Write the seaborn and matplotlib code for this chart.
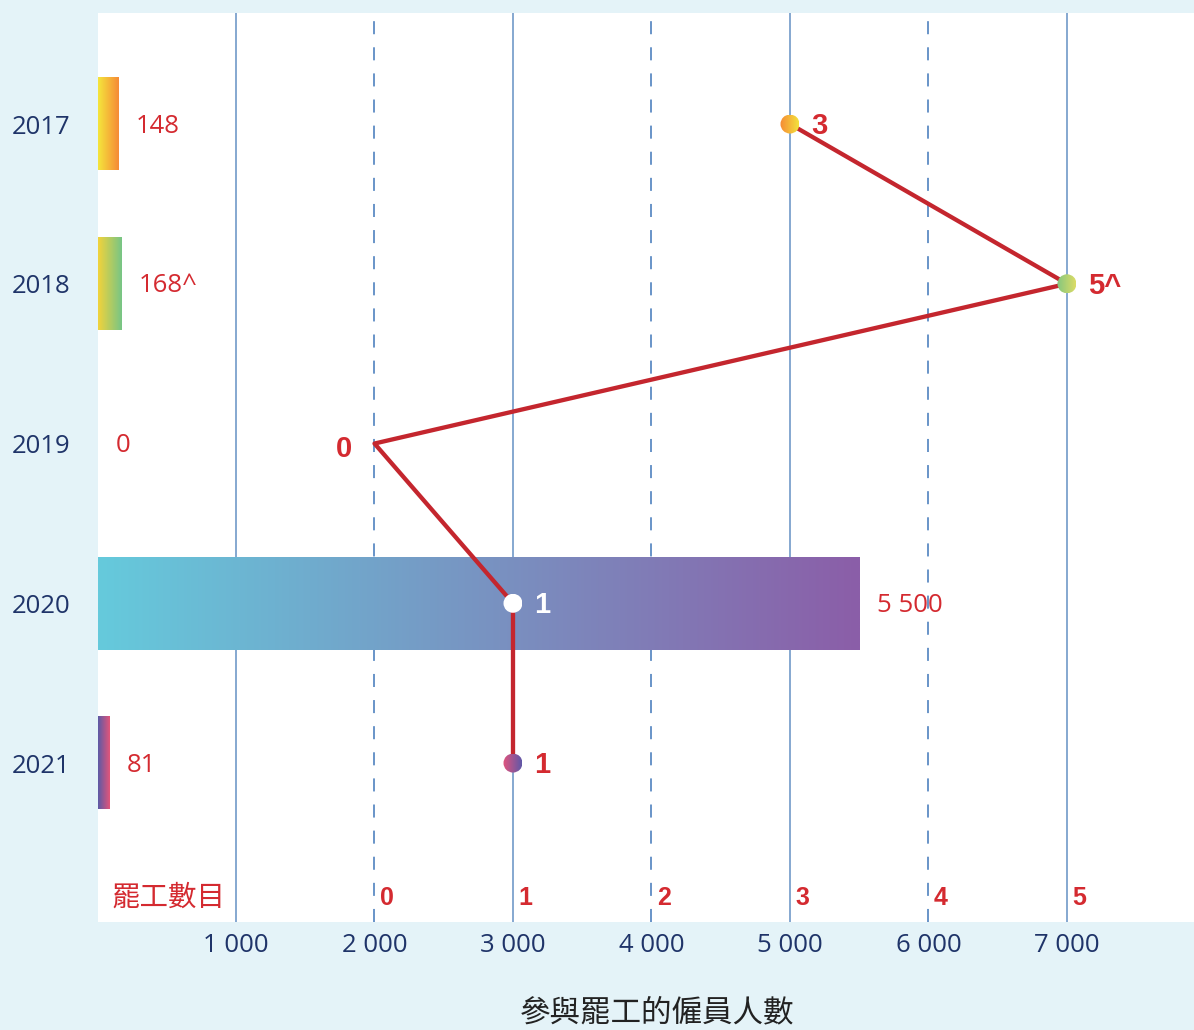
import numpy as np
import pandas as pd
import matplotlib
matplotlib.use("Agg")
import matplotlib.pyplot as plt
import seaborn as sns
from matplotlib.colors import LinearSegmentedColormap
from matplotlib.patches import Ellipse
from matplotlib.ticker import FixedLocator, FuncFormatter

# ---- data -------------------------------------------------------------
years = ["2017", "2018", "2019", "2020", "2021"]
workers = [148, 168, 0, 5500, 81]
worker_labels = ["148", "168^", "0", "5 500", "81"]
strikes = [3, 5, 0, 1, 1]
strike_labels = ["3", "5^", "0", "1", "1"]
worker_ticks = [1000, 2000, 3000, 4000, 5000, 6000, 7000]
strike_ticks = [0, 1, 2, 3, 4, 5]

# left -> right gradient colours for each bar and each strike marker
bar_colors = [("#f4e63c", "#f68a36"), ("#f2d33b", "#76c586"), None,
              ("#65cadc", "#8b5ea8"), ("#5b5aa6", "#e3557a")]
dot_colors = [("#f68a35", "#f3e23c"), ("#84c67f", "#dcdc66"), None,
              ("#ffffff", "#ffffff"), ("#e2547d", "#5f58a8")]
strike_text_colors = ["#d42a30", "#d42a30", "#d42a30", "#ffffff", "#d42a30"]

# strike count axis shares the worker axis: 0 strikes at 2 000, one step per 1 000
STRIKE_ORIGIN, STRIKE_STEP = 2000, 1000


def strike_to_x(s):
    return STRIKE_ORIGIN + STRIKE_STEP * s


BG = "#e4f3f8"
RED = "#d42a30"
LINE_RED = "#c4262e"
NAVY = "#1f3469"
GRID_SOLID = "#7199c8"
GRID_DASH = "#4f82bf"

sns.set_theme(style="white")
plt.rcParams["font.family"] = ["Open Sans", "Noto Sans CJK TC", "DejaVu Sans"]
plt.rcParams["lines.scale_dashes"] = False

fig = plt.figure(figsize=(11.94, 10.30), dpi=100, facecolor=BG)
W, H = 1194, 1030
ax = fig.add_axes([97.5 / W, (H - 922) / H, 1 - 97.5 / W, 909 / H])
ax.set_facecolor("white")

df = pd.DataFrame({"year": years, "workers": workers})
sns.barplot(data=df, x="workers", y="year", orient="h", width=0.58,
            color="white", errorbar=None, ax=ax, zorder=2)

XLIM = (0, 7917)
YLIM = (4.995, -0.695)

# vertical grid: solid on odd thousands, dashed on even thousands
for i, t in enumerate(worker_ticks):
    if i % 2 == 0:
        ax.axvline(t, color=GRID_SOLID, lw=1.2, zorder=1)
    else:
        ax.axvline(t, color=GRID_DASH, lw=1.2, ls=(0, (9.4, 9.4)), zorder=1)

# gradient-filled bars
grad = np.linspace(0, 1, 256).reshape(1, -1)
for patch, cols in zip(ax.patches, bar_colors):
    x0, y0 = patch.get_xy()
    w, h = patch.get_width(), patch.get_height()
    patch.set_visible(False)
    if cols is None or w <= 0:
        continue
    cmap = LinearSegmentedColormap.from_list("bar", list(cols))
    ax.imshow(grad, cmap=cmap, extent=(x0, x0 + w, y0 + h, y0),
              aspect="auto", zorder=2, interpolation="bilinear")

ax.set_xlim(*XLIM)
ax.set_ylim(*YLIM)

# value labels beside the bars
for i, (v, lab) in enumerate(zip(workers, worker_labels)):
    ax.annotate(lab, xy=(v, i), xytext=(13, -1.5), textcoords="offset points",
                ha="left", va="center", color=RED, fontsize=18.5, zorder=6)

# strike count line
pos = np.arange(len(years))
sx = [strike_to_x(s) for s in strikes]
sns.lineplot(x=sx, y=pos, sort=False, estimator=None, orient="y",
             color=LINE_RED, lw=3.1, ax=ax, zorder=4)

# gradient markers
bbox = ax.get_window_extent()
px_x = bbox.width / (XLIM[1] - XLIM[0])
px_y = bbox.height / abs(YLIM[0] - YLIM[1])
r_px = 9.5
for i, (x, cols) in enumerate(zip(sx, dot_colors)):
    if cols is None:
        continue
    ew, eh = 2 * r_px / px_x, 2 * r_px / px_y
    ell = Ellipse((x, i), ew, eh, facecolor="none", edgecolor="none", zorder=5)
    ax.add_patch(ell)
    cmap = LinearSegmentedColormap.from_list("dot", list(cols))
    im = ax.imshow(grad, cmap=cmap,
                   extent=(x - ew / 2, x + ew / 2, i + eh / 2, i - eh / 2),
                   aspect="auto", zorder=5, interpolation="bilinear")
    im.set_clip_path(ell)

# strike count labels at each point
for i, (x, lab, c) in enumerate(zip(sx, strike_labels, strike_text_colors)):
    if strikes[i] == 0:
        ax.annotate(lab, xy=(x, i), xytext=(-16, -4), textcoords="offset points",
                    ha="right", va="center", color=c, fontsize=21,
                    fontweight="bold", family="Liberation Sans", zorder=6)
    else:
        ax.annotate(lab, xy=(x, i), xytext=(15, -1.5), textcoords="offset points",
                    ha="left", va="center", color=c, fontsize=21,
                    fontweight="bold", family="Liberation Sans", zorder=6)

# strike count scale along the bottom of the plot
for s in strike_ticks:
    ax.annotate(str(s), xy=(strike_to_x(s), 0.026), xycoords=("data", "axes fraction"),
                xytext=(4, 0), textcoords="offset points", ha="left", va="center",
                color=RED, fontsize=18, fontweight="bold", family="Liberation Sans",
                zorder=6)
ax.annotate("罷工數目", xy=(0.0132, 0.027), xycoords="axes fraction",
            ha="left", va="center", color=RED, fontsize=20.5,
            family=["Noto Sans CJK TC", "DejaVu Sans"], zorder=6)

# axes styling
ax.xaxis.set_major_locator(FixedLocator(worker_ticks))
ax.xaxis.set_major_formatter(FuncFormatter(lambda v, p: f"{int(v):,}".replace(",", " ")))
ax.tick_params(axis="x", length=0, pad=8, labelsize=18.5, labelcolor=NAVY)
ax.tick_params(axis="y", length=0, pad=62, labelsize=18.5, labelcolor=NAVY)
for lab in ax.get_yticklabels():
    lab.set_horizontalalignment("left")
ax.set_ylabel("")
ax.set_xlabel("參與罷工的僱員人數", fontsize=22, color="#222222",
              family=["Noto Sans CJK TC", "DejaVu Sans"])
ax.xaxis.set_label_coords((657 - 97.5) / 1096.5, -0.083)
for sp in ax.spines.values():
    sp.set_visible(False)
ax.grid(False)

fig.savefig("out.png", dpi=100, facecolor=BG)
